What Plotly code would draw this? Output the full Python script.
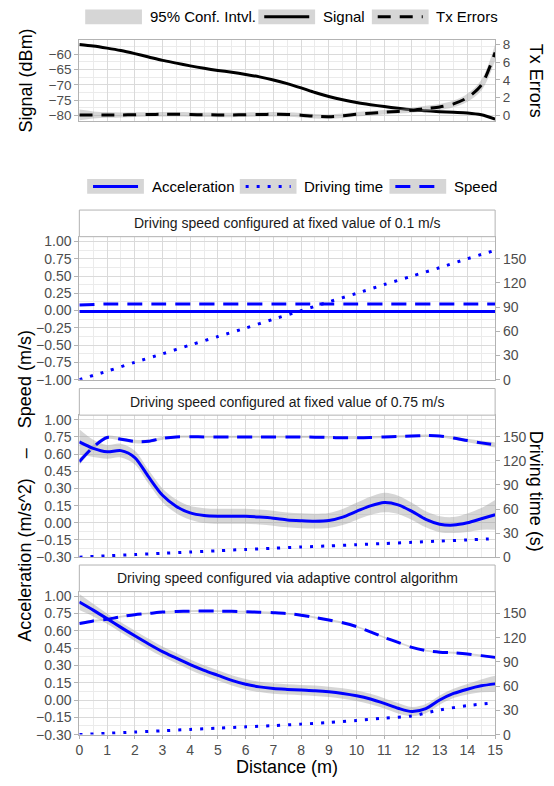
import plotly.graph_objects as go

W, H = 554, 786

# ------------------------------------------------------------------ data
distance_fine = [0, 0.5, 1, 1.5, 2, 2.5, 3, 3.5, 4, 4.5, 5, 5.5, 6, 6.5, 7, 7.5,
                 8, 8.5, 9, 9.5, 10, 10.5, 11, 11.5, 12, 12.5, 13, 13.5, 14, 14.5, 15]
distance_int = [0, 1, 2, 3, 4, 5, 6, 7, 8, 9, 10, 11, 12, 13, 14, 15]

# top panel
signal_dbm = [-56.8, -57.3, -58.0, -58.8, -59.8, -60.9, -62.0, -62.9, -63.8, -64.6, -65.3,
              -65.9, -66.6, -67.4, -68.4, -69.6, -71.0, -72.5, -73.8, -74.9, -75.8, -76.5,
              -77.1, -77.7, -78.2, -78.5, -78.8, -79.0, -79.2, -79.8, -81.2]
tx_errors = [0.05, 0.05, 0.05, 0.05, 0.08, 0.1, 0.12, 0.12, 0.1, 0.07, 0.05, 0.05, 0.07, 0.1,
             0.12, 0.1, 0.02, -0.1, -0.15, -0.05, 0.12, 0.25, 0.35, 0.45, 0.58, 0.78, 0.95,
             1.3, 2.0, 3.4, 7.1]
tx_errors_ci = [0.6, 0.4, 0.32, 0.28, 0.26, 0.25, 0.25, 0.25, 0.25, 0.25, 0.25, 0.25, 0.25,
                0.25, 0.25, 0.25, 0.25, 0.25, 0.25, 0.25, 0.25, 0.25, 0.25, 0.25, 0.27, 0.3,
                0.33, 0.38, 0.45, 0.6, 0.9]

# facet 1: fixed 0.1 m/s
acc_01 = [-0.015, -0.015, -0.015, -0.015, -0.015, -0.015, -0.015, -0.015, -0.015, -0.015,
          -0.015, -0.015, -0.015, -0.015, -0.015, -0.015]
speed_01 = [0.08, 0.095, 0.095, 0.095, 0.095, 0.095, 0.095, 0.095, 0.095, 0.095, 0.095,
            0.095, 0.095, 0.095, 0.095, 0.095]
time_01 = [0, 10.5, 21.5, 32, 43, 53.5, 64, 75, 85.5, 96.5, 107, 118, 128.5, 139, 150, 160.5]

# facet 2: fixed 0.75 m/s
acc_075 = [0.706, 0.65, 0.62, 0.63, 0.57, 0.40, 0.24, 0.143, 0.086, 0.063, 0.057, 0.057,
           0.057, 0.05, 0.04, 0.025, 0.018, 0.014, 0.02, 0.05, 0.10, 0.148, 0.177, 0.157,
           0.10, 0.03, -0.012, -0.02, 0.0, 0.035, 0.07]
acc_075_ci = [0.11, 0.075, 0.06, 0.06, 0.06, 0.06, 0.06, 0.06, 0.06, 0.065, 0.065, 0.065,
              0.065, 0.065, 0.065, 0.065, 0.065, 0.065, 0.065, 0.07, 0.075, 0.08, 0.085,
              0.08, 0.075, 0.07, 0.07, 0.07, 0.08, 0.095, 0.13]
speed_075 = [0.534, 0.66, 0.745, 0.73, 0.71, 0.712, 0.738, 0.75, 0.752, 0.75, 0.75, 0.75,
             0.75, 0.75, 0.75, 0.75, 0.75, 0.748, 0.745, 0.742, 0.742, 0.745, 0.75, 0.754,
             0.758, 0.762, 0.757, 0.74, 0.718, 0.698, 0.68]
speed_075_ci = [0.03, 0.02, 0.015, 0.015, 0.015, 0.015, 0.012, 0.01, 0.01, 0.01, 0.01, 0.01,
                0.01, 0.01, 0.01, 0.01, 0.01, 0.01, 0.01, 0.01, 0.01, 0.01, 0.01, 0.01, 0.01,
                0.01, 0.01, 0.012, 0.015, 0.018, 0.022]
time_075 = [0, 1.6, 3.2, 4.8, 6.4, 8.0, 9.6, 11.1, 12.6, 14.0, 15.5, 17.0, 18.5, 20.0, 21.5, 23.0]

# facet 3: adaptive control
acc_adapt = [0.85, 0.78, 0.706, 0.63, 0.557, 0.486, 0.42, 0.363, 0.306, 0.257, 0.214, 0.171,
             0.137, 0.114, 0.10, 0.092, 0.086, 0.08, 0.071, 0.057, 0.037, 0.009, -0.029,
             -0.071, -0.10, -0.075, 0.0, 0.057, 0.094, 0.123, 0.14]
acc_adapt_ci = [0.07, 0.055, 0.045, 0.045, 0.045, 0.045, 0.045, 0.045, 0.045, 0.045, 0.045,
                0.045, 0.045, 0.045, 0.045, 0.045, 0.045, 0.045, 0.045, 0.045, 0.045, 0.045,
                0.045, 0.045, 0.04, 0.04, 0.04, 0.04, 0.045, 0.055, 0.07]
speed_adapt = [0.663, 0.686, 0.70, 0.723, 0.74, 0.751, 0.763, 0.768, 0.771, 0.772, 0.771,
               0.769, 0.766, 0.762, 0.757, 0.75, 0.736, 0.716, 0.694, 0.67, 0.637, 0.591,
               0.543, 0.50, 0.457, 0.429, 0.415, 0.41, 0.40, 0.385, 0.37]
speed_adapt_ci = [0.012, 0.01, 0.008, 0.008, 0.008, 0.008, 0.008, 0.008, 0.008, 0.008, 0.008,
                  0.008, 0.008, 0.008, 0.008, 0.008, 0.008, 0.008, 0.008, 0.008, 0.008, 0.008,
                  0.008, 0.008, 0.008, 0.008, 0.008, 0.008, 0.008, 0.01, 0.012]
time_adapt = [0, 1.6, 3.2, 4.8, 6.4, 8.0, 9.6, 11.2, 13.0, 15.0, 17.5, 20.4, 23.2, 30.6, 35.9, 39.5]

facet_titles = ["Driving speed configured at fixed value of 0.1 m/s",
                "Driving speed configured at fixed value of 0.75 m/s",
                "Driving speed configured via adaptive control algorithm"]
legend1_labels = ["95% Conf. Intvl.", "Signal", "Tx Errors"]
legend2_labels = ["Acceleration", "Driving time", "Speed"]

signal_ticks = [-80, -75, -70, -65, -60]
signal_ticktext = ["\u221280", "\u221275", "\u221270", "\u221265", "\u221260"]
tx_ticks = [0, 2, 4, 6, 8]
speed01_ticks = [-1.0, -0.75, -0.5, -0.25, 0.0, 0.25, 0.5, 0.75, 1.0]
speed01_ticktext = ["\u22121.00", "\u22120.75", "\u22120.50", "\u22120.25", "0.00",
                    "0.25", "0.50", "0.75", "1.00"]
acc_ticks = [-0.3, -0.15, 0.0, 0.15, 0.3, 0.45, 0.6, 0.75, 0.9]
acc_ticktext = ["\u22120.30", "\u22120.15", "0.00", "0.15", "0.30", "0.45", "0.60", "0.75",
                "1.00"]
time_ticks = [0, 30, 60, 90, 120, 150]

# ------------------------------------------------------------------ style
FONT = "Liberation Sans, Arial, sans-serif"
BLUE = "#0000ff"
BORDER = "#b3b3b3"
MAJ = "#dadada"
MIN = "#ebebeb"
RIB = "rgba(153,153,153,0.4)"
TICKC = "#4d4d4d"
DASH_BLACK = "13px,9px"
DASH_BLUE = "15px,9px"
DOT = "3px,8px"

XL, XR = 77, 502
panels = {"top": (38, 120), "f1": (237, 382), "f2": (418, 562), "f3": (597, 742)}
strips = [(210, 237), (391, 418), (570, 597)]


def px(x):
    return x / W


def py(y):
    return 1 - y / H


def ydom(key):
    t, b = panels[key]
    return [py(b), py(t)]


fig = go.Figure()


def ribbon(x, y, ci, xa, ya):
    up = [v + c for v, c in zip(y, ci)]
    lo = [v - c for v, c in zip(y, ci)]
    fig.add_trace(go.Scatter(x=x, y=up, mode="lines", line=dict(width=0, shape="spline"),
                             xaxis=xa, yaxis=ya, showlegend=False, hoverinfo="skip"))
    fig.add_trace(go.Scatter(x=x, y=lo, mode="lines", line=dict(width=0, shape="spline"),
                             fill="tonexty", fillcolor=RIB, xaxis=xa, yaxis=ya,
                             showlegend=False, hoverinfo="skip"))


def line(x, y, xa, ya, color, dash, width=3):
    fig.add_trace(go.Scatter(x=x, y=y, mode="lines",
                             line=dict(color=color, width=width, dash=dash, shape="spline",
                                       smoothing=0.8),
                             xaxis=xa, yaxis=ya, showlegend=False))


# top panel
ribbon(distance_fine, tx_errors, tx_errors_ci, "x", "y2")
line(distance_fine, signal_dbm, "x", "y", "black", "solid")
line(distance_fine, tx_errors, "x", "y2", "black", DASH_BLACK)

# facet 1
line(distance_int, acc_01, "x2", "y3", BLUE, "solid")
line(distance_int, speed_01, "x2", "y3", BLUE, DASH_BLUE)
line(distance_int, time_01, "x2", "y4", BLUE, DOT)

# facet 2
ribbon(distance_fine, speed_075, speed_075_ci, "x3", "y5")
ribbon(distance_fine, acc_075, acc_075_ci, "x3", "y5")
line(distance_fine, acc_075, "x3", "y5", BLUE, "solid")
line(distance_fine, speed_075, "x3", "y5", BLUE, DASH_BLUE)
line(distance_int, time_075, "x3", "y6", BLUE, DOT)

# facet 3
ribbon(distance_fine, speed_adapt, speed_adapt_ci, "x4", "y7")
ribbon(distance_fine, acc_adapt, acc_adapt_ci, "x4", "y7")
line(distance_fine, acc_adapt, "x4", "y7", BLUE, "solid")
line(distance_fine, speed_adapt, "x4", "y7", BLUE, DASH_BLUE)
line(distance_int, time_adapt, "x4", "y8", BLUE, DOT)

# ------------------------------------------------------------------ axes
tickfont = dict(family=FONT, size=14, color=TICKC)


def xaxis(anchor, labels):
    d = dict(domain=[px(XL), px(XR)], anchor=anchor, range=[0, 15], tick0=0, dtick=1,
             showgrid=True, gridcolor=MAJ, gridwidth=1,
             minor=dict(dtick=0.5, tick0=0, showgrid=True, gridcolor=MIN, gridwidth=1),
             zeroline=False, showline=True, mirror=True, linecolor=BORDER, linewidth=1,
             showticklabels=labels, tickfont=tickfont)
    if labels:
        d.update(ticks="outside", ticklen=3, tickcolor=BORDER, tickwidth=1)
    else:
        d.update(ticks="")
    return d


def yleft(key, anchor, rng, tickvals, ticktext, minorvals, font=tickfont):
    return dict(domain=ydom(key), anchor=anchor, range=rng, tickmode="array",
                tickvals=tickvals, ticktext=ticktext,
                showgrid=True, gridcolor=MAJ, gridwidth=1, zeroline=False, showline=True,
                mirror=True, linecolor=BORDER, linewidth=1, ticks="outside", ticklen=4,
                tickcolor=BORDER, tickwidth=1, tickfont=font,
                minor=dict(tickmode="array", tickvals=minorvals, showgrid=True,
                           gridcolor=MIN, gridwidth=1))


def yright(over, anchor, rng, tickvals, font=tickfont):
    return dict(overlaying=over, anchor=anchor, side="right", range=rng, tickmode="array",
                tickvals=tickvals, showgrid=False, zeroline=False, showline=True,
                linecolor=BORDER, linewidth=1, ticks="outside", ticklen=4, tickcolor=BORDER,
                tickwidth=1, tickfont=font)


def mids(vals, step):
    return [v + step / 2 for v in vals] + [vals[0] - step / 2]


top_tickfont = dict(family=FONT, size=13.5, color=TICKC)

fig.update_layout(
    xaxis=xaxis("y", False),
    yaxis=yleft("top", "x", [-81.94, -55.5], signal_ticks, signal_ticktext,
                mids(signal_ticks, 5), font=top_tickfont),
    yaxis2=yright("y", "x", [-0.67, 8.45], tx_ticks, font=top_tickfont),
    xaxis2=xaxis("y3", False),
    yaxis3=yleft("f1", "x2", [-1.0, 1.07], speed01_ticks, speed01_ticktext,
                 mids(speed01_ticks, 0.25)),
    yaxis4=yright("y3", "x2", [0, 177.4], time_ticks),
    xaxis3=xaxis("y5", False),
    yaxis5=yleft("f2", "x3", [-0.3, 0.94], acc_ticks, acc_ticktext, mids(acc_ticks, 0.15)),
    yaxis6=yright("y5", "x3", [0, 177.1], time_ticks),
    xaxis4=xaxis("y7", True),
    yaxis7=yleft("f3", "x4", [-0.3, 0.94], acc_ticks, acc_ticktext, mids(acc_ticks, 0.15)),
    yaxis8=yright("y7", "x4", [0, 177.1], time_ticks),
)

# ------------------------------------------------------------------ strips, titles, legends
shapes = []
annotations = []

for (t, b), title in zip(strips, facet_titles):
    shapes.append(dict(type="rect", xref="paper", yref="paper", x0=px(XL), x1=px(XR),
                       y0=py(b), y1=py(t), fillcolor="white",
                       line=dict(color=BORDER, width=1)))
    annotations.append(dict(text=title, xref="paper", yref="paper", x=px((XL + XR) / 2),
                            y=py((t + b) / 2), xanchor="center", yanchor="middle",
                            showarrow=False, font=dict(family=FONT, size=14, color="#1a1a1a")))

title_font = dict(family=FONT, size=18, color="black")
sp = "\u00a0" * 4
titles = [
    dict(text="Signal (dBm)", x=px(22), y=py(79), textangle=-90),
    dict(text="Tx Errors", x=px(544), y=py(79), textangle=90),
    dict(text="Acceleration (m/s^2)" + sp + "\u2013" + sp + "Speed (m/s)", x=px(22),
         y=py(490), textangle=-90),
    dict(text="Driving time (s)", x=px(544), y=py(495), textangle=90),
    dict(text="Distance (m)", x=px((XL + XR) / 2), y=py(775), textangle=0),
]
for a in titles:
    a.update(xref="paper", yref="paper", xanchor="center", yanchor="middle",
             showarrow=False, font=title_font)
annotations += titles

legend_font = dict(family=FONT, size=15, color="black")
KEYC = "#d6d6d6"


def legend_item(kx, ky, label, color=None, dash=None, key_only=False):
    shapes.append(dict(type="rect", xref="paper", yref="paper", x0=px(kx), x1=px(kx + 58),
                       y0=py(ky + 7.5), y1=py(ky - 7.5), fillcolor=KEYC, line=dict(width=0)))
    if not key_only:
        shapes.append(dict(type="line", xref="paper", yref="paper", x0=px(kx + 6),
                           x1=px(kx + 52), y0=py(ky), y1=py(ky),
                           line=dict(color=color, width=3, dash=dash)))
    annotations.append(dict(text=label, xref="paper", yref="paper", x=px(kx + 64), y=py(ky),
                            xanchor="left", yanchor="middle", showarrow=False,
                            font=legend_font))


legend_item(83, 14, legend1_labels[0], key_only=True)
legend_item(260, 14, legend1_labels[1], color="black", dash="solid")
legend_item(376, 14, legend1_labels[2], color="black", dash=DASH_BLACK)

legend_item(85, 186, legend2_labels[0], color=BLUE, dash="solid")
legend_item(241, 186, legend2_labels[1], color=BLUE, dash=DOT)
legend_item(394, 186, legend2_labels[2], color=BLUE, dash=DASH_BLUE)

fig.update_layout(
    width=W, height=H, autosize=False,
    margin=dict(l=0, r=0, t=0, b=0, pad=0),
    paper_bgcolor="white", plot_bgcolor="white",
    showlegend=False,
    shapes=shapes, annotations=annotations,
    font=dict(family=FONT),
)

fig.write_html("out.html", config={"displayModeBar": False})
